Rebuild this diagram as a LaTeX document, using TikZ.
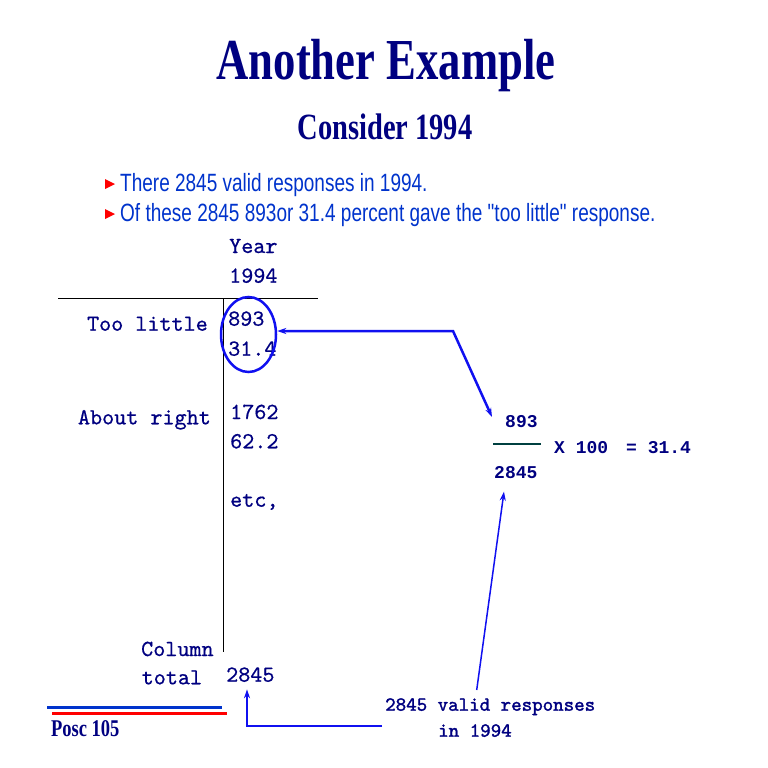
\documentclass[tikz,border=0pt]{standalone}
\usepackage{fontspec}
\usepackage{tikz}
\usetikzlibrary{arrows.meta, shapes.geometric}
\newfontfamily\headfont{Liberation Serif}[FakeStretch=0.77]
\newfontfamily\bulletfont{Liberation Sans}[FakeStretch=0.76]
\newfontfamily\tablefont{lmmono10-regular}[Extension=.otf, FakeBold=0.6]
\newfontfamily\notefont{lmmono10-regular}[Extension=.otf, FakeBold=1.6]
\newfontfamily\fracfont{Liberation Mono}
\definecolor{navytext}{RGB}{0,0,128}
\definecolor{arrowblue}{RGB}{16,16,240}
\definecolor{bulletblue}{RGB}{0,51,204}
\definecolor{barteal}{RGB}{0,64,64}
\tikzset{
  cell/.style={inner sep=0pt, text=navytext, font=\tablefont\fontsize{23}{23}\selectfont},
  frac/.style={inner sep=0pt, text=navytext, font=\fracfont\bfseries\fontsize{18}{18}\selectfont},
  note/.style={inner sep=0pt, text=navytext, font=\notefont\fontsize{20}{20}\selectfont},
  bullet/.style={inner sep=0pt, anchor=base west, text=bulletblue, font=\bulletfont\fontsize{25}{25}\selectfont},
  pointer/.style={draw=arrowblue, -{Stealth[length=9pt, width=6pt]}}
}

\begin{document}
\begin{tikzpicture}[x=1pt, y=-1pt]
	\useasboundingbox (0,0) rectangle (768,768);
	% headings
	\node [inner sep=0pt, anchor=base, text=navytext, font=\headfont\bfseries\fontsize{58}{58}\selectfont] (title) at (386,80) {Another Example};
	\node [inner sep=0pt, anchor=base, text=navytext, font=\headfont\bfseries\fontsize{37}{37}\selectfont] (sub) at (385,139) {Consider 1994};
	\foreach \y in {184,214} \fill [red] (105,\y-5) -- (115,\y) -- (105,\y+5) -- cycle;
	\node [bullet] (line1) at (120,191.5) {There 2845 valid responses in 1994.};
	\node [bullet] (line2) at (120,221) {Of these 2845 893or 31.4 percent gave the "too little" response.};
	% table
	\draw [line width=1pt] (58,298) -- (318,298);
	\draw [line width=1pt] (223,298) -- (223,652);
	\node [cell, anchor=base west] (year) at (229,253) {Year};
	\node [cell, anchor=base west] (yr) at (229,282.7) {1994};
	\node [cell, anchor=base east] (toolittle) at (208,330.7) {Too little};
	\node [cell, anchor=base west] (n893) at (228,325.7) {893};
	\node [cell, anchor=base west] (p314) at (228,355.7) {31.4};
	\node [cell, anchor=base east] (aboutright) at (211,424.3) {About right};
	\node [cell, anchor=base west] (n1762) at (230,419) {1762};
	\node [cell, anchor=base west] (p622) at (230,448.3) {62.2};
	\node [cell, anchor=base west] (etc) at (230,506.7) {etc,};
	\node [cell, anchor=base west] (column) at (141,656) {Column};
	\node [cell, anchor=base west] (total) at (141.5,684.3) {total};
	\node [cell, anchor=base west] (coltotal) at (226,681.7) {2845};
	\node [ellipse, draw=arrowblue, line width=2.5pt, minimum width=55pt, minimum height=75pt] (ring) at (248.5,334.5) {};
	% fraction
	\node [frac, anchor=base west] (fnum) at (505,427.3) {893};
	\draw [barteal, line width=2pt] (493,444.3) -- (541,444.3);
	\node [frac, anchor=base west] (times) at (554,453.3) {X 100};
	\node [frac, anchor=base west] (result) at (626,453.3) {= 31.4};
	\node [frac, anchor=base west] (fden) at (494,478.3) {2845};
	% note
	\node [note, anchor=base west] (valid) at (385,710.7) {2845 valid responses};
	\node [note, anchor=base west] (in94) at (438,736.7) {in 1994};
	% arrows
	\coordinate (kink) at (453,331);
	\coordinate (numtip) at (492,417);
	\coordinate (dentip) at (504,491.7);
	\coordinate (vtail) at (476.7,690);
	\coordinate (btail) at (382,726);
	\coordinate (tottip) at (247,689.3);
	\draw [pointer, {Stealth[length=9pt, width=6pt]}-{Stealth[length=9pt, width=6pt]}, line width=2.5pt] (ring.east |- kink) -- (kink) -- (numtip);
	\draw [pointer, line width=1.5pt] (vtail) -- (dentip);
	\draw [pointer, line width=2pt] (btail) -| (tottip);
	% footer
	\draw [bulletblue, line width=3pt] (47,707.3) -- (222,707.3);
	\draw [red, line width=3pt] (52,713.3) -- (227,713.3);
	\node [inner sep=0pt, anchor=base west, text=navytext, font=\headfont\bfseries\fontsize{24}{24}\selectfont] (posc) at (51,736.7) {Posc 105};
\end{tikzpicture}
\end{document}
